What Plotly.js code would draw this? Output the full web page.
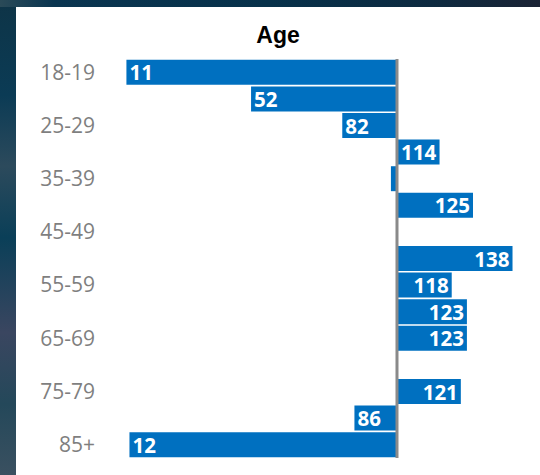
<!DOCTYPE html>
<html>
<head>
<meta charset="utf-8">
<script src="https://cdn.plot.ly/plotly-3.0.1.min.js"></script>
<style>
  html, body { margin: 0; padding: 0; width: 540px; height: 475px; overflow: hidden; }
  body {
    background: linear-gradient(180deg, #0e3447 0%, #0b3b55 20%, #2c4a5c 35%, #0a3f58 50%, #3a4660 70%, #24485a 85%, #3a5060 100%);
    position: relative;
  }
  #topstrip {
    position: absolute; left: 0; top: 0; width: 540px; height: 7px;
    background: linear-gradient(90deg, #2a4a58 0%, #0a3550 10%, #07314a 50%, #0d2a40 80%, #1a2234 100%);
  }
  #chart { position: absolute; left: 16px; top: 7px; width: 524px; height: 468px; background: #ffffff; }
</style>
</head>
<body>
<div id="topstrip"></div>
<div id="chart"></div>
<script>
// Data (index, 100 = average)
const categories = ['18-19','20-24','25-29','30-34','35-39','40-44','45-49','50-54','55-59','60-64','65-69','70-74','75-79','80-84','85+'];
const values = [11, 52, 82, 114, 98, 125, 100, 138, 118, 123, 123, 100, 121, 86, 12];
const tickLabels = ['18-19','25-29','35-39','45-49','55-59','65-69','75-79','85+'];
const baseline = 100;

const trace = {
  type: 'bar',
  orientation: 'h',
  y: categories,
  x: values.map(v => v - baseline),
  base: baseline,
  text: values.map(String),
  // labels are only shown where the bar is long enough to hold them
  textposition: values.map(v => Math.abs(v - baseline) < 10 ? 'none' : 'inside'),
  insidetextanchor: 'end',
  constraintext: 'none',
  textangle: 0,
  textfont: { family: 'Open Sans, sans-serif', size: 20.5, color: '#ffffff', weight: 'bold' },
  marker: { color: '#0070C0', line: { width: 0 } },
  hoverinfo: 'none'
};

const layout = {
  width: 524,
  height: 468,
  margin: { l: 94, r: 10, t: 51.5, b: 16.9 },
  paper_bgcolor: '#ffffff',
  plot_bgcolor: '#ffffff',
  showlegend: false,
  bargap: 0.062,
  title: {
    text: 'Age',
    font: { family: 'Liberation Sans, Arial, sans-serif', size: 23, color: '#000000', weight: 'bold' },
    x: 0.5, xanchor: 'center',
    y: 0.940, yanchor: 'middle', yref: 'container'
  },
  xaxis: {
    range: [5.6, 143.75],
    showgrid: false, zeroline: false, showline: false,
    showticklabels: false, ticks: '', fixedrange: true
  },
  yaxis: {
    type: 'category',
    categoryorder: 'array',
    categoryarray: categories,
    autorange: 'reversed',
    tickvals: tickLabels,
    ticktext: tickLabels,
    ticks: '',
    ticklabelstandoff: 14,
    showgrid: false, zeroline: false, showline: false,
    tickfont: { family: 'Open Sans, sans-serif', size: 21, color: '#7f7f7f' },
    fixedrange: true
  },
  shapes: [{
    type: 'line', xref: 'x', yref: 'paper',
    x0: baseline, x1: baseline, y0: 0, y1: 1,
    line: { color: '#8a8a8a', width: 3 },
    layer: 'above'
  }]
};

Plotly.newPlot('chart', [trace], layout, { displayModeBar: false, staticPlot: true });
</script>
</body>
</html>
